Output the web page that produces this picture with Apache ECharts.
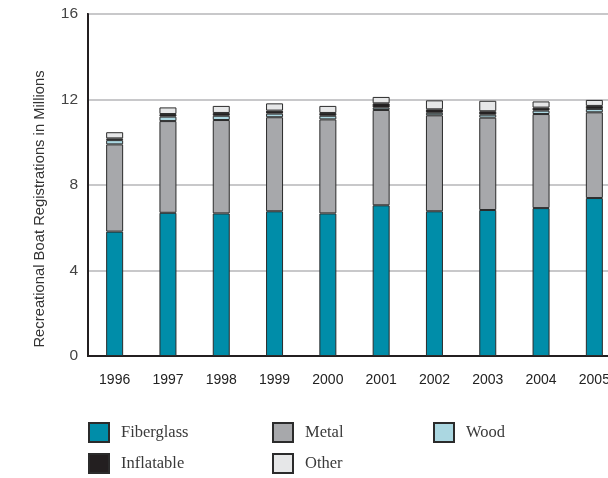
<!DOCTYPE html>
<html><head><meta charset="utf-8">
<script src="https://cdn.jsdelivr.net/npm/echarts@6/dist/echarts.min.js"></script>
<style>html,body{margin:0;padding:0;background:#fff}#c{width:608px;height:478px}</style>
</head><body><div id="c"></div>
<script>
var years = ['1996','1997','1998','1999','2000','2001','2002','2003','2004','2005'];
var fiberglass = [5.82, 6.70, 6.67, 6.77, 6.67, 7.05, 6.77, 6.83, 6.92, 7.39];
var metal      = [4.08, 4.29, 4.37, 4.40, 4.40, 4.46, 4.49, 4.32, 4.40, 4.01];
var wood       = [0.20, 0.21, 0.20, 0.17, 0.17, 0.11, 0.12, 0.14, 0.16, 0.16];
var inflatable = [0.08, 0.12, 0.13, 0.14, 0.13, 0.20, 0.16, 0.16, 0.14, 0.14];
var other      = [0.29, 0.31, 0.33, 0.34, 0.33, 0.30, 0.42, 0.49, 0.29, 0.28];
var yTicks = [0, 4, 8, 12, 16];

var colors = {Fiberglass:'#008DA9', Metal:'#A7A8AB', Wood:'#ABD7E1', Inflatable:'#231F20', Other:'#E6E7E8'};
function ser(name, data){
  return {name:name, type:'bar', stack:'s', data:data, barWidth:17,
    itemStyle:{color:colors[name], borderColor:'#2b2b2b', borderWidth:1}};
}
function leg(name, left, top){
  return {data:[name], left:left, top:top, padding:0, itemWidth:20, itemHeight:19, icon:'rect',
    textStyle:{fontFamily:'Liberation Serif', fontSize:16.5, color:'#3a3a3a', padding:[8,0,0,7]}};
}
var chart = echarts.init(document.getElementById('c'));
chart.setOption({
  animation:false,
  grid:{left:88, top:14, width:533, height:342, show:true, borderColor:'#231F20', borderWidth:2,
    backgroundColor:'transparent', outerBoundsMode:'none', containLabel:false},
  legend:[leg('Fiberglass',88,422), leg('Metal',272,422), leg('Wood',433,422), leg('Inflatable',88,453), leg('Other',272,453)],
  xAxis:{type:'category', data:years,
    axisLine:{lineStyle:{color:'#231F20', width:2}},
    axisTick:{inside:true, length:5, interval:0, lineStyle:{color:'#333'}},
    axisLabel:{margin:17, fontFamily:'Liberation Sans', fontSize:14, color:'#222', interval:0}},
  yAxis:{type:'value', min:0, max:16, interval:4,
    name:'Recreational Boat Registrations in Millions', nameLocation:'middle', nameGap:41,
    nameTextStyle:{fontFamily:'Liberation Sans', fontSize:14.8, color:'#333', padding:[0,48,0,0]},
    axisLine:{show:true, lineStyle:{color:'#231F20', width:2}},
    axisTick:{show:false},
    axisLabel:{margin:10, fontFamily:'Liberation Sans', fontSize:15.5, color:'#444',
      formatter:function(v){return yTicks.indexOf(v)>=0 ? String(v) : '';}},
    splitLine:{lineStyle:{color:'#C8C8CA', width:2}}},
  series:[ser('Fiberglass',fiberglass), ser('Metal',metal), ser('Wood',wood), ser('Inflatable',inflatable), ser('Other',other)]
});
</script></body></html>
